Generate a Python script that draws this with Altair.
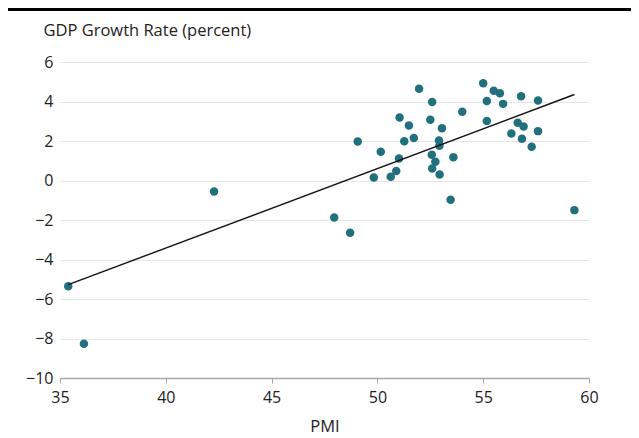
import altair as alt
import pandas as pd

pmi = [35.39, 36.13, 42.28, 51.97, 52.59, 51.05, 51.49, 52.50, 53.05, 49.07,
       51.27, 51.72, 52.91, 52.93, 50.16, 51.02, 52.57, 52.74, 52.59, 52.94,
       53.59, 50.89, 50.63, 49.83, 53.46, 47.96, 48.71, 54.01, 55.00, 55.17,
       55.50, 55.79, 55.94, 55.17, 56.79, 57.59, 56.63, 56.91, 56.33, 57.59,
       56.83, 57.29, 59.31]
gdp = [-5.36, -8.26, -0.56, 4.64, 3.98, 3.19, 2.78, 3.07, 2.65, 1.97,
       1.99, 2.15, 2.02, 1.76, 1.45, 1.11, 1.30, 0.95, 0.61, 0.30,
       1.18, 0.48, 0.19, 0.15, -0.98, -1.87, -2.65, 3.48, 4.93, 4.02,
       4.55, 4.42, 3.88, 3.01, 4.27, 4.05, 2.92, 2.73, 2.38, 2.50,
       2.11, 1.71, -1.50]

x_ticks = [35, 40, 45, 50, 55, 60]
y_ticks = [6, 4, 2, 0, -2, -4, -6, -8, -10]

df = pd.DataFrame({"PMI": pmi, "GDP": gdp})

FONT = "Open Sans"
W, H = 529, 316

x = alt.X("PMI:Q", scale=alt.Scale(domain=[35, 60], nice=False, zero=False),
          axis=alt.Axis(values=x_ticks, title="PMI", grid=False, domain=True,
                        domainColor="#a8a8a8", domainWidth=1.5, tickColor="#a8a8a8",
                        tickSize=5, tickWidth=1, labelPadding=6, labelFontSize=16,
                        labelColor="#222", titleFontSize=16.5, titleFontWeight="normal",
                        titleColor="#222", titlePadding=13, labelFont=FONT, titleFont=FONT,
                        labelOverlap=False, labelFlush=False))
y = alt.Y("GDP:Q", scale=alt.Scale(domain=[-10, 6], nice=False, zero=False),
          axis=alt.Axis(values=y_ticks, title="GDP Growth Rate (percent)", grid=True,
                        gridColor="#e6e6e6", gridWidth=1, domain=False, ticks=False,
                        labelPadding=7, labelFontSize=16, labelColor="#222",
                        labelOverlap=False, labelFlush=False,
                        labelFont=FONT, titleFont=FONT, titleFontSize=16.5,
                        titleFontWeight="normal", titleColor="#222", titleAngle=0,
                        titleAlign="left", titleBaseline="alphabetic",
                        titleX=-17, titleY=-27))

base = alt.Chart(df)

points = base.mark_circle(size=72, opacity=1, color="#22707e").encode(x=x, y=y)

fit = base.transform_regression("PMI", "GDP").mark_line(
    color="#111111", strokeWidth=1.4).encode(x=x, y=y)

topbar = alt.Chart(pd.DataFrame({"k": [0]})).mark_rule(
    color="black", strokeWidth=3).encode(
    x=alt.value(-53), x2=alt.value(571), y=alt.value(-52.5))

chart = alt.layer(points, fit, topbar).properties(
    width=W, height=H,
    autosize=alt.AutoSizeParams(type="none"),
    padding={"left": 52, "top": 54, "right": 42, "bottom": 57},
).configure_view(stroke=None).configure_axis(labelOverlap=False, labelFlush=False)

chart.save("out.html", embed_options={"renderer": "svg", "actions": False})
